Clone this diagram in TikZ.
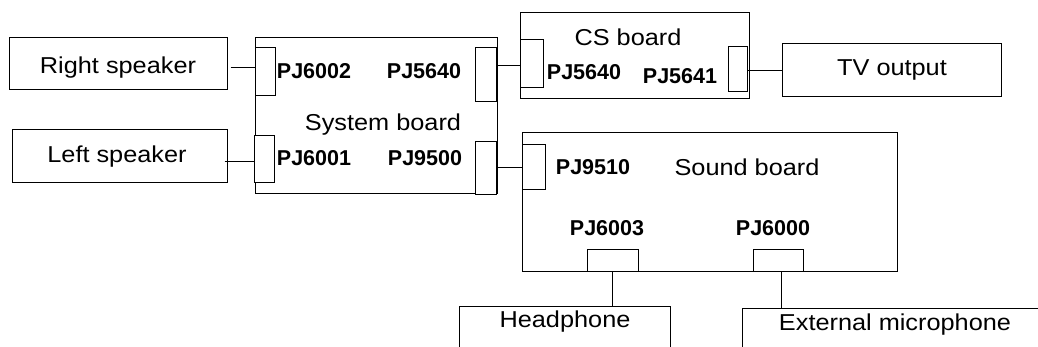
\documentclass[tikz,border=0pt]{standalone}
\usepackage{fontspec}
\setmainfont{Liberation Sans}
\newfontfamily\lblfont[FakeStretch=1.1]{Liberation Sans}
\begin{document}
\begin{tikzpicture}[x=1pt,y=-1pt,line width=1pt,
  box/.style={draw,rectangle,inner sep=0pt},
  conn/.style={draw,fill=white,rectangle,inner sep=0pt},
  lbl/.style={inner sep=0pt,font=\lblfont\fontsize{23}{25}\selectfont},
  pj/.style={inner sep=0pt,font=\bfseries\fontsize{21.5}{23}\selectfont}]
\useasboundingbox (0,0) rectangle (1038,347);
\clip (0,0) rectangle (1038,347);
% external boxes
\node[box,minimum width=218pt,minimum height=52pt] (rspk) at (118,64) {};
\node[lbl] at (118,68) {Right speaker};
\node[box,minimum width=215pt,minimum height=53pt] (lspk) at (119.5,156.5) {};
\node[lbl] at (117,157) {Left speaker};
\node[box,minimum width=219pt,minimum height=53pt] (tv) at (891.5,70.5) {};
\node[lbl] at (892,70) {TV output};
\node[box,minimum width=211pt,minimum height=80pt] (hp) at (564.5,346) {};
\node[lbl] at (565,322) {Headphone};
\node[box,minimum width=320pt,minimum height=80pt] (mic) at (902,348) {};
\node[lbl] at (895,325) {External microphone};
% boards
\node[box,minimum width=242pt,minimum height=156pt] (sys) at (376,116) {};
\node[box,minimum width=229pt,minimum height=86pt] (cs) at (634.5,56) {};
\node[box,minimum width=375pt,minimum height=138pt] (snd) at (709.5,202) {};
% connectors
\node[conn,minimum width=20pt,minimum height=48pt] (c6002) at (265,72) {};
\node[conn,minimum width=21pt,minimum height=54pt] (c5640s) at (485.5,75) {};
\node[conn,minimum width=20pt,minimum height=47pt] (c6001) at (264,159.5) {};
\node[conn,minimum width=21pt,minimum height=53pt] (c9500) at (485.5,168.5) {};
\node[conn,minimum width=23pt,minimum height=48pt] (c5640c) at (531.5,64) {};
\node[conn,minimum width=19pt,minimum height=45pt] (c5641) at (737.5,69.5) {};
\node[conn,minimum width=23pt,minimum height=45pt] (c9510) at (533.5,167.5) {};
\node[conn,minimum width=51pt,minimum height=21pt] (c6003) at (612.5,260.5) {};
\node[conn,minimum width=50pt,minimum height=21pt] (c6000) at (778,260.5) {};
% board labels
\node[pj] at (314,71) {PJ6002};
\node[pj] at (424,71) {PJ5640};
\node[lbl] at (383,125) {System board};
\node[pj] at (314,158) {PJ6001};
\node[pj] at (425,158) {PJ9500};
\node[lbl] at (628,37) {CS board};
\node[pj] at (584,72) {PJ5640};
\node[pj] at (680,76) {PJ5641};
\node[pj] at (593,167) {PJ9510};
\node[lbl] at (747,167) {Sound board};
\node[pj] at (607,228) {PJ6003};
\node[pj] at (773,228) {PJ6000};
% connecting lines
\draw ([xshift=3pt,yshift=-4pt]rspk.east) -- ([yshift=-4pt]rspk.east -| c6002.west);
\draw ([xshift=-3pt,yshift=-5.5pt]lspk.east) -- ([yshift=-5.5pt]lspk.east -| c6001.west);
\draw ([yshift=-2pt]c5640c.west -| c5640s.east) -- ([yshift=-2pt]c5640c.west);
\draw (tv.west -| c5641.east) -- (tv.west);
\draw (c9510.west -| c9500.east) -- (c9510.west);
\draw (c6003.south) -- (c6003.south |- hp.north);
\draw ([xshift=3pt]c6000.south) -- ([xshift=3pt]c6000.south |- mic.north);
\end{tikzpicture}
\end{document}
